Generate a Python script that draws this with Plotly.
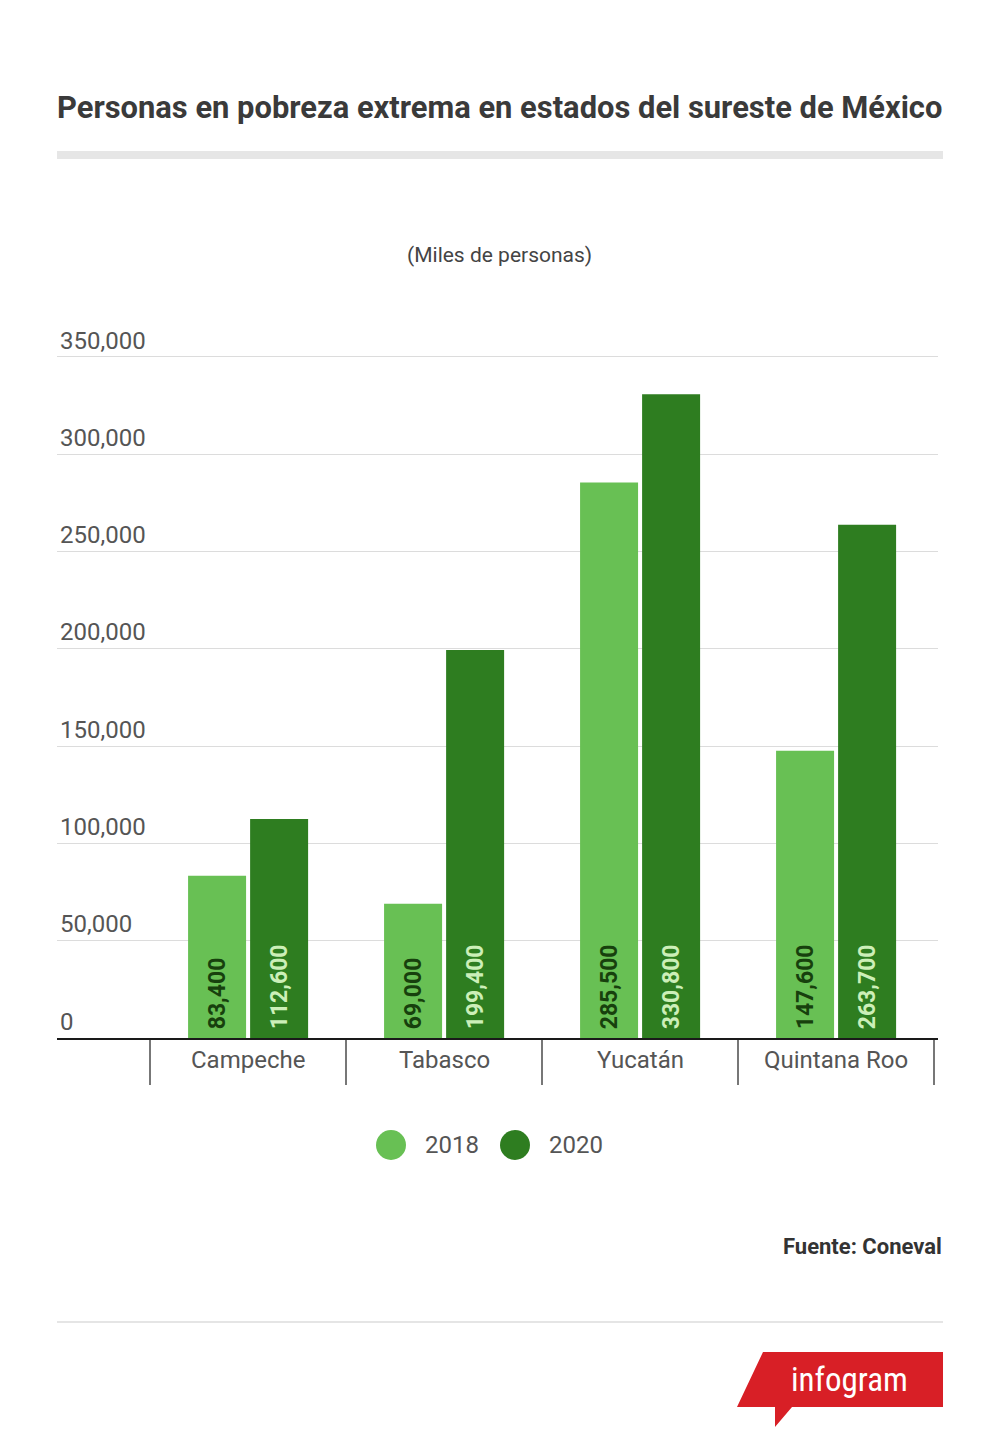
import plotly.graph_objs as go

states = ["Campeche", "Tabasco", "Yucatán", "Quintana Roo"]
pobreza_2018 = [83400, 69000, 285500, 147600]
pobreza_2020 = [112600, 199400, 330800, 263700]
years = ["2018", "2020"]
y_ticks = [0, 50000, 100000, 150000, 200000, 250000, 300000, 350000]

light_green = "#68c054"
dark_green = "#2e7d20"
font_name = "Roboto"

# the page body has an 8px margin, so positions below are given in page pixels
OFF = 8
W, H = 984, 1440
L, R, T, B = 49, 54, 310, 410
pw, ph = W - L - R, H - T - B


def px(x):
    return (x - OFF - L) / pw


def py(y):
    return (H - B - (y - OFF)) / ph


fig = go.Figure()

fig.add_trace(go.Bar(
    x=states, y=pobreza_2018, name=years[0], marker=dict(color=light_green, line=dict(width=0)),
    texttemplate="\u00a0<b>%{y:,}</b>", textposition="inside", insidetextanchor="start",
    textangle=-90, textfont=dict(family=font_name, size=23, color="#17400d"), showlegend=False))
fig.add_trace(go.Bar(
    x=states, y=pobreza_2020, name=years[1], marker=dict(color=dark_green, line=dict(width=0)),
    texttemplate="\u00a0<b>%{y:,}</b>", textposition="inside", insidetextanchor="start",
    textangle=-90, textfont=dict(family=font_name, size=23, color="#ccefb8"), showlegend=False))

fig.update_layout(
    width=W, height=H,
    margin=dict(l=L, r=R, t=T, b=B),
    paper_bgcolor="white", plot_bgcolor="white",
    barmode="group", bargap=0.367, bargroupgap=0.065,
    font=dict(family=font_name, color="#555"),
    uniformtext=dict(mode="show", minsize=10),
    showlegend=False,
    xaxis=dict(
        type="category", range=[-0.975, 3.52], showgrid=False, zeroline=False,
        showline=True, linecolor="#1a1a1a", linewidth=2,
        ticks="outside", tickson="boundaries", ticklen=45, tickcolor="#777", tickwidth=1.5,
        showticklabels=False, fixedrange=True),
    yaxis=dict(
        range=[0, 370000], tickvals=y_ticks, tickformat=",",
        showgrid=True, gridcolor="#dcdcdc", gridwidth=1, zeroline=False, showline=False,
        ticklabelposition="inside top", tickfont=dict(size=24, color="#555"),
        fixedrange=True),
)

# category labels between the divider ticks
for s in states:
    fig.add_annotation(x=s, xref="x", y=0, yref="paper", yanchor="top", yshift=-6,
                       text=s, showarrow=False, font=dict(size=24, color="#555"))

# legend with round markers
legend_pos = [(391, 425), (515, 549)]
for name, col, (cx, tx) in zip(years, [light_green, dark_green], legend_pos):
    fig.add_shape(type="circle", xref="paper", yref="paper",
                  x0=px(cx - 15), x1=px(cx + 15), y0=py(1160), y1=py(1130),
                  fillcolor=col, line=dict(width=0))
    fig.add_annotation(x=px(tx - 2), y=py(1145), xref="paper", yref="paper", xanchor="left",
                       yanchor="middle", showarrow=False, text=name,
                       font=dict(size=24, color="#555"))

fig.add_annotation(x=px(55), y=py(108), xref="paper", yref="paper", xanchor="left",
                   yanchor="middle", showarrow=False,
                   text="<b>Personas en pobreza extrema en estados del sureste de México</b>",
                   font=dict(size=30.9, color="#3a3a3a"))
fig.add_shape(type="rect", xref="paper", yref="paper", x0=px(57), x1=px(943),
              y0=py(151), y1=py(159), fillcolor="#e6e6e6", line=dict(width=0))
fig.add_annotation(x=px(500), y=py(255), xref="paper", yref="paper", xanchor="center",
                   yanchor="middle", showarrow=False, text="(Miles de personas)",
                   font=dict(size=21, color="#444"))
fig.add_annotation(x=px(944), y=py(1246), xref="paper", yref="paper", xanchor="right",
                   yanchor="middle", showarrow=False, text="<b>Fuente: Coneval</b>",
                   font=dict(size=22, color="#333"))
fig.add_shape(type="line", xref="paper", yref="paper", x0=px(57), x1=px(943),
              y0=py(1322), y1=py(1322), line=dict(color="#dddddd", width=1.5))

# infogram badge
pts = [(763, 1352), (943, 1352), (943, 1407), (792, 1407), (775, 1427), (775, 1407), (737, 1407)]
path = "M " + " L ".join(f"{px(a):.5f},{py(b):.5f}" for a, b in pts) + " Z"
fig.add_shape(type="path", xref="paper", yref="paper", path=path,
              fillcolor="#d81f26", line=dict(width=0))
fig.add_annotation(x=px(849), y=py(1379), xref="paper", yref="paper", xanchor="center",
                   yanchor="middle", showarrow=False, text="infogram",
                   font=dict(size=33, color="white", family="Roboto Condensed, Roboto"))

fig.write_html("out.html")
